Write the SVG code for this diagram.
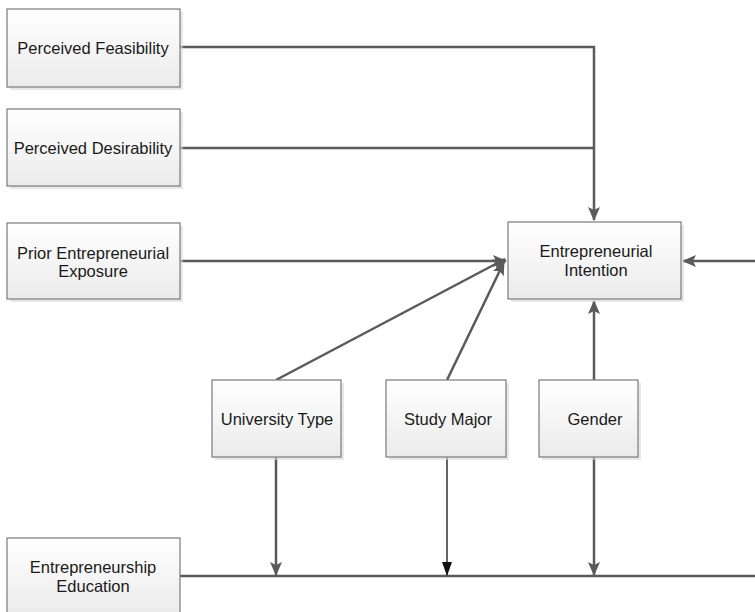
<svg xmlns="http://www.w3.org/2000/svg" width="755" height="612" viewBox="0 0 755 612">
<defs>
<linearGradient id="g" x1="0" y1="0" x2="0" y2="1">
<stop offset="0" stop-color="#ffffff"/>
<stop offset="1" stop-color="#ebebeb"/>
</linearGradient>
<marker id="a" markerUnits="userSpaceOnUse" markerWidth="14" markerHeight="12" refX="13" refY="6" orient="auto">
<path d="M0,0 L14,6 L0,12 L3,6 Z" fill="#5a5a5a"/>
</marker>
<marker id="b" markerUnits="userSpaceOnUse" markerWidth="14" markerHeight="12" refX="13" refY="5" orient="auto">
<path d="M0,0 L14,5 L0,10 Z" fill="#111"/>
</marker>
</defs>
<style>
.box{fill:url(#g);stroke:#7a7a7a;stroke-width:1.2}
.sh{fill:#d9d9d9;opacity:0.6}
.t{font-family:"Liberation Sans",Arial,sans-serif;font-size:16.5px;fill:#1a1a1a;text-anchor:middle}
.c{fill:none;stroke:#5a5a5a;stroke-width:2.5}
.k{fill:none;stroke:#111;stroke-width:1.3}
</style>
<g id="connectors">
<path class="c" d="M180,47 H594 V220" marker-end="url(#a)"/>
<path class="c" d="M180,148 H594"/>
<path class="c" d="M180,261 H506" marker-end="url(#a)"/>
<path class="c" d="M276,380 L505,259" marker-end="url(#a)"/>
<path class="c" d="M447,380 L504,262" marker-end="url(#a)"/>
<path class="c" d="M594,380 V301" marker-end="url(#a)"/>
<path class="c" d="M755,261 H683" marker-end="url(#a)"/>
<path class="c" d="M180,576 H755"/>
<path class="c" d="M276,457 V575" marker-end="url(#a)"/>
<path class="k" d="M447,457 V575" marker-end="url(#b)"/>
<path class="c" d="M594,457 V575" marker-end="url(#a)"/>
</g>
<g id="pf">
<rect class="sh" x="10" y="12" width="173" height="78"/>
<rect class="box" x="7" y="9" width="173" height="78"/>
<text class="t" x="93" y="54">Perceived Feasibility</text>
</g>
<g id="pd">
<rect class="sh" x="10" y="112" width="173" height="77"/>
<rect class="box" x="7" y="109" width="173" height="77"/>
<text class="t" x="93" y="154">Perceived Desirability</text>
</g>
<g id="pe">
<rect class="sh" x="10" y="226" width="173" height="76"/>
<rect class="box" x="7" y="223" width="173" height="76"/>
<text class="t" x="93" y="259">Prior Entrepreneurial</text>
<text class="t" x="93" y="277">Exposure</text>
</g>
<g id="ei">
<rect class="sh" x="511" y="225" width="173" height="77"/>
<rect class="box" x="508" y="222" width="173" height="77"/>
<text class="t" x="596" y="257">Entrepreneurial</text>
<text class="t" x="596" y="276">Intention</text>
</g>
<g id="ut">
<rect class="sh" x="215" y="383" width="129" height="77"/>
<rect class="box" x="212" y="380" width="129" height="77"/>
<text class="t" x="277" y="425">University Type</text>
</g>
<g id="sm">
<rect class="sh" x="389" y="383" width="120" height="77"/>
<rect class="box" x="386" y="380" width="120" height="77"/>
<text class="t" x="448" y="425">Study Major</text>
</g>
<g id="gender">
<rect class="sh" x="542" y="383" width="99" height="77"/>
<rect class="box" x="539" y="380" width="99" height="77"/>
<text class="t" x="595" y="425">Gender</text>
</g>
<g id="ee">
<rect class="sh" x="10" y="541" width="170" height="78"/>
<rect class="box" x="7" y="538" width="173" height="78"/>
<text class="t" x="93" y="573">Entrepreneurship</text>
<text class="t" x="93" y="592">Education</text>
</g>
</svg>
